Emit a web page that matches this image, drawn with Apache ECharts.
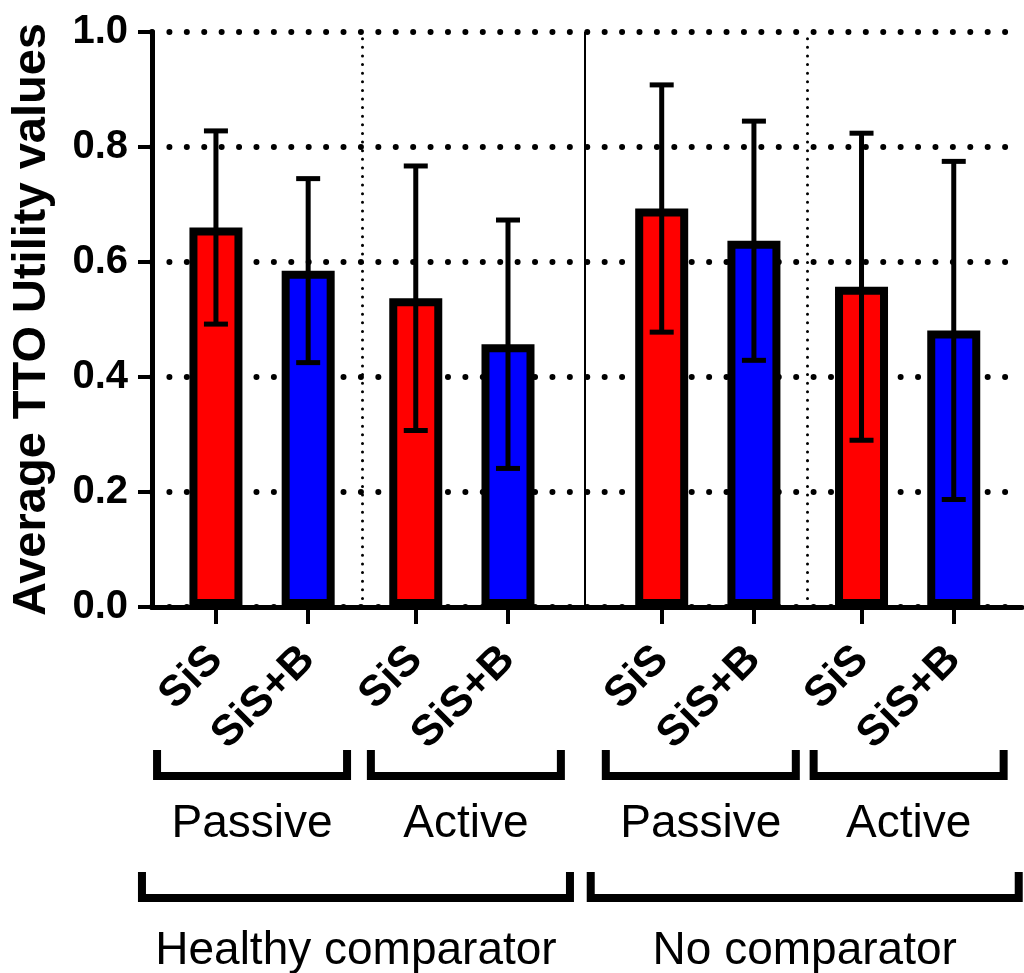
<!DOCTYPE html>
<html>
<head>
<meta charset="utf-8">
<script src="https://cdn.jsdelivr.net/npm/echarts@6/dist/echarts.min.js"></script>
<style>
  html, body { margin: 0; padding: 0; background: #ffffff; }
  #chart { width: 1024px; height: 973px; }
</style>
</head>
<body>
<div id="chart"></div>
<script>
// Treatment under each bar, then the two grouping levels below them
const barLabels = ['SiS', 'SiS+B', 'SiS', 'SiS+B', 'SiS', 'SiS+B', 'SiS', 'SiS+B'];
const modeLabels = ['Passive', 'Active', 'Passive', 'Active'];
const comparatorLabels = ['Healthy comparator', 'No comparator'];
// Mean TTO utility and its SD, in the same order as barLabels
const meanValues = [0.660, 0.585, 0.537, 0.457, 0.693, 0.637, 0.557, 0.481];
const sdValues = [0.168, 0.160, 0.230, 0.216, 0.215, 0.208, 0.267, 0.294];

// Horizontal layout in axis units: bars of a pair sit PAIR apart, pairs are
// separated by MODE_GAP, the two comparator blocks by COMP_GAP.
const LEAD = 4.16, PAIR = 6, MODE_GAP = 7, COMP_GAP = 10, X_MAX = 56.6;
// Small pixel nudges that place each bracket/caption under its pair
const MODE_NUDGE = [-10, 4, -7, 1];
const COMP_NUDGE = [-6, -3];

const slots = [];
let pos = LEAD;
for (let i = 0; i < barLabels.length; i++) {
  if (i > 0) pos += (i % 4 === 0) ? COMP_GAP : (i % 2 === 0 ? MODE_GAP : PAIR);
  slots.push(Math.round(pos * 1000) / 1000);
}
const mid = (a, b) => (slots[a] + slots[b]) / 2;

const FONT = '"Liberation Sans", Arial, sans-serif';
const RED = '#ff0000', BLUE = '#0000ff';

const sisData = [], sisBData = [], errData = [];
barLabels.forEach((lab, i) => {
  const pt = [slots[i], meanValues[i]];
  if (i % 2 === 0) sisData.push(pt); else sisBData.push(pt);
  errData.push([slots[i], meanValues[i], sdValues[i]]);
});

function labelFor(v) {
  for (let i = 0; i < slots.length; i++) {
    if (Math.abs(slots[i] - v) < 1e-6) return barLabels[i];
  }
  return '';
}

const chart = echarts.init(document.getElementById('chart'), null, { renderer: 'canvas' });

const barStyle = (color) => ({ color: color, borderColor: '#000', borderWidth: 8 });

chart.setOption({
  animation: false,
  backgroundColor: '#ffffff',
  grid: { left: 152, right: 2, top: 32, bottom: 366, containLabel: false },
  xAxis: {
    type: 'value',
    min: 0,
    max: X_MAX,
    splitLine: { show: false },
    axisLine: { show: true, onZero: false, lineStyle: { color: '#000', width: 5 } },
    axisTick: {
      show: true, customValues: slots, length: 17, inside: false,
      lineStyle: { color: '#000', width: 4 }
    },
    axisLabel: {
      show: true, customValues: slots, rotate: 45, margin: 46,
      formatter: labelFor,
      fontFamily: FONT, fontWeight: 'bold', fontSize: 43, color: '#000'
    }
  },
  yAxis: {
    type: 'value',
    min: 0,
    max: 1,
    interval: 0.2,
    name: 'Average TTO Utility values',
    nameLocation: 'middle',
    nameGap: 96,
    nameTextStyle: { fontFamily: FONT, fontWeight: 'bold', fontSize: 47, color: '#000' },
    axisLine: { show: true, lineStyle: { color: '#000', width: 5 } },
    axisTick: { show: true, length: 14, lineStyle: { color: '#000', width: 4 } },
    axisLabel: {
      margin: 24,
      formatter: (v) => v.toFixed(1),
      fontFamily: FONT, fontWeight: 'bold', fontSize: 40, color: '#000'
    },
    splitLine: {
      show: true,
      lineStyle: { color: '#000', width: 6, type: [0.01, 17.4], cap: 'round' }
    }
  },
  series: [
    {
      name: 'SiS',
      type: 'bar',
      data: sisData,
      barWidth: 53,
      barGap: '-100%',
      itemStyle: barStyle(RED),
      z: 2
    },
    {
      name: 'SiS+B',
      type: 'bar',
      data: sisBData,
      barWidth: 53,
      barGap: '-100%',
      itemStyle: barStyle(BLUE),
      z: 2
    },
    {
      name: 'SD',
      type: 'custom',
      data: errData,
      encode: { x: 0, y: [1, 2] },
      z: 5,
      renderItem: function (params, api) {
        const x = api.value(0), m = api.value(1), s = api.value(2);
        const top = api.coord([x, m + s]);
        const bot = api.coord([x, m - s]);
        const cap = 12;
        const style = { stroke: '#000', lineWidth: 5, fill: null };
        return {
          type: 'group',
          children: [
            { type: 'line', shape: { x1: top[0], y1: top[1], x2: bot[0], y2: bot[1] }, style: style },
            { type: 'line', shape: { x1: top[0] - cap, y1: top[1], x2: top[0] + cap, y2: top[1] }, style: style },
            { type: 'line', shape: { x1: bot[0] - cap, y1: bot[1], x2: bot[0] + cap, y2: bot[1] }, style: style }
          ]
        };
      },
      markLine: {
        silent: true,
        symbol: ['none', 'none'],
        label: { show: false },
        data: [
          { xAxis: mid(1, 2), lineStyle: { color: '#000', width: 3, type: [0.01, 8.6], cap: 'round' } },
          { xAxis: mid(3, 4), lineStyle: { color: '#000', width: 2, type: 'solid' } },
          { xAxis: mid(5, 6), lineStyle: { color: '#000', width: 3, type: [0.01, 8.6], cap: 'round' } }
        ]
      }
    }
  ]
});

// Group brackets and their captions under the tick labels
const px = (v) => chart.convertToPixel({ xAxisIndex: 0 }, v);
const graphics = [];
function bracket(cx, half, yTop, yBot) {
  graphics.push({
    type: 'polyline',
    shape: { points: [[cx - half, yTop], [cx - half, yBot], [cx + half, yBot], [cx + half, yTop]] },
    style: { stroke: '#000', lineWidth: 8, fill: 'none', lineJoin: 'miter' },
    silent: true
  });
}
function caption(text, cx, cy) {
  graphics.push({
    type: 'text',
    x: cx, y: cy,
    style: {
      text: text, fill: '#000',
      font: '46px ' + FONT, fontSize: 46, fontFamily: FONT,
      textAlign: 'center', textVerticalAlign: 'middle',
      align: 'center', verticalAlign: 'middle'
    },
    silent: true
  });
}
modeLabels.forEach((lab, k) => {
  const cx = px(mid(2 * k, 2 * k + 1)) + MODE_NUDGE[k];
  bracket(cx, 95, 750, 776);
  caption(lab, cx, 824);
});
comparatorLabels.forEach((lab, k) => {
  const cx = px(mid(4 * k, 4 * k + 3)) + COMP_NUDGE[k];
  bracket(cx, 214, 872, 898);
  caption(lab, cx, 951);
});
chart.setOption({ graphic: graphics });
</script>
</body>
</html>
